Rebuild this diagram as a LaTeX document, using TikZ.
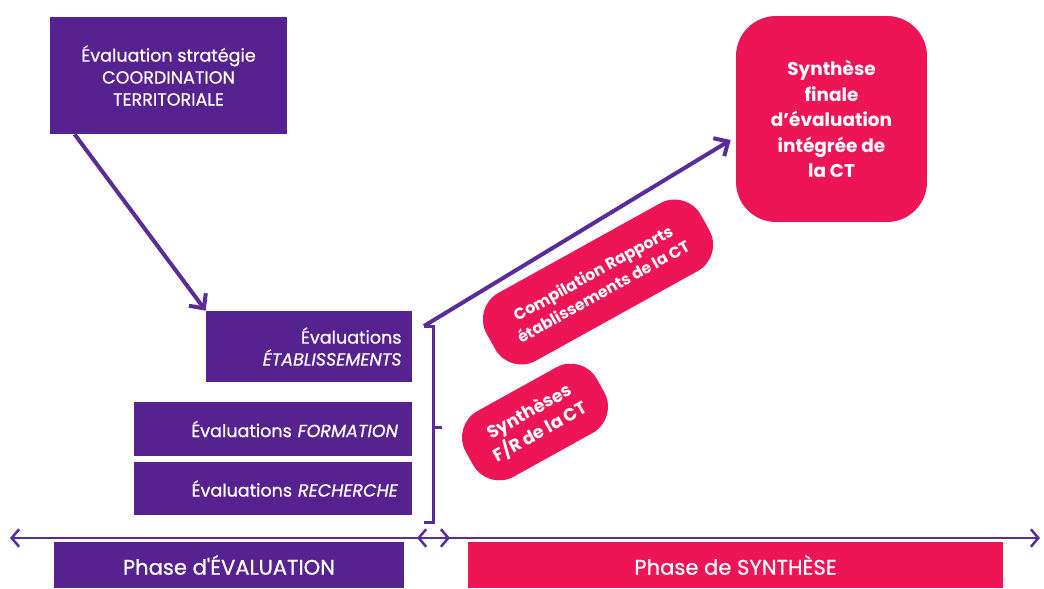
\documentclass[tikz,border=0pt]{standalone}
\usepackage{fontspec}
\setmainfont{Poppins}
\newfontfamily\medfont{Poppins}[FakeBold=0.7]
\usetikzlibrary{shapes,arrows.meta}
\definecolor{evalpurple}{HTML}{55228F}
\definecolor{linepurple}{HTML}{5A2B9A}
\definecolor{synthpink}{HTML}{EE1556}
\tikzstyle{evalbox} = [rectangle, fill=evalpurple, text=white, inner ysep=0pt,
    font=\medfont\fontsize{10}{12.5}\selectfont]
\tikzstyle{synthbox} = [rectangle, fill=synthpink, text=white, align=center,
    rounded corners=0.8cm, font=\bfseries\fontsize{10.5}{14.5}\selectfont]
\tikzstyle{pill} = [rectangle, fill=synthpink, text=white, align=center,
    rounded corners=0.6cm, rotate=29, font=\bfseries\fontsize{9}{12}\selectfont]
\tikzstyle{phase} = [rectangle, text=white, minimum height=0.92cm,
    font=\medfont\fontsize{12}{14}\selectfont]
\tikzstyle{line} = [draw=linepurple, line width=0.08cm, -{Straight Barb[length=0.22cm,width=0.42cm]}]
\tikzstyle{bracket} = [draw=linepurple, line width=0.06cm]
\tikzstyle{axis} = [draw=linepurple, line width=0.05cm]

\begin{document}
\begin{tikzpicture}[x=0.02cm, y=-0.02cm]
    \useasboundingbox (0,0) rectangle (1044,588);
    % Place nodes
    \node [evalbox, minimum width=4.74cm, minimum height=2.34cm, align=center] (strat) at (168.5,75.5)
        {Évaluation stratégie\\COORDINATION\\TERRITORIALE};
    \node [evalbox, minimum height=1.42cm, text width=3.7cm, inner xsep=0.21cm, align=right] (etab) at (309,346.5)
        {Évaluations\\\textit{ÉTABLISSEMENTS}};
    \node [evalbox, minimum height=1.08cm, text width=5.0cm, inner xsep=0.28cm, align=right] (form) at (273,429)
        {Évaluations \textit{FORMATION}};
    \node [evalbox, minimum height=1.06cm, text width=5.0cm, inner xsep=0.28cm, align=right] (rech) at (273,488.5)
        {Évaluations \textit{RECHERCHE}};
    \node [synthbox, minimum width=3.82cm, minimum height=4.12cm] (final) at (831.5,119)
        {Synthèse\\finale\\d'évaluation\\intégrée de\\la CT};
    \node [pill, minimum width=4.9cm, minimum height=1.55cm] (comp) at (598,282)
        {Compilation Rapports\\établissements de la CT};
    \node [pill, minimum width=3.0cm, minimum height=1.5cm, font=\bfseries\fontsize{10}{13}\selectfont] (synfr) at (535,422)
        {Synthèses\\F/R de la CT};
    \node [phase, fill=evalpurple, minimum width=7.0cm] (pheval) at (229,565) {Phase d'ÉVALUATION};
    \node [phase, fill=synthpink, minimum width=10.7cm] (phsynth) at (735.5,565) {Phase de SYNTHÈSE};
    % Bracket and time axis
    \coordinate (brtop) at (424,326);
    \coordinate (brbot) at (424,522);
    \draw [bracket] (brtop) -- ++(9,0) -- ++(0,196) -- (brbot);
    \draw [bracket] (433,427) -- ++(9,0);
    \coordinate (axl) at (10,538);
    \coordinate (axr) at (1040,538);
    \coordinate (gapl) at (417,538);
    \coordinate (gapr) at (450,538);
    \path [axis, {Straight Barb[length=0.15cm,width=0.35cm]}-{Straight Barb[length=0.15cm,width=0.35cm]}] (axl) -- (axr);
    \path [axis, {Straight Barb[length=0.15cm,width=0.35cm]}-{Straight Barb[length=0.15cm,width=0.35cm]}] (gapl) -- (gapr);
    % Draw edges
    \path [line] ([xshift=0.5cm]strat.south west) -- (etab.north west);
    \path [line] (brtop) -- ([xshift=-0.1cm, yshift=-0.42cm]final.west);
\end{tikzpicture}
\end{document}
